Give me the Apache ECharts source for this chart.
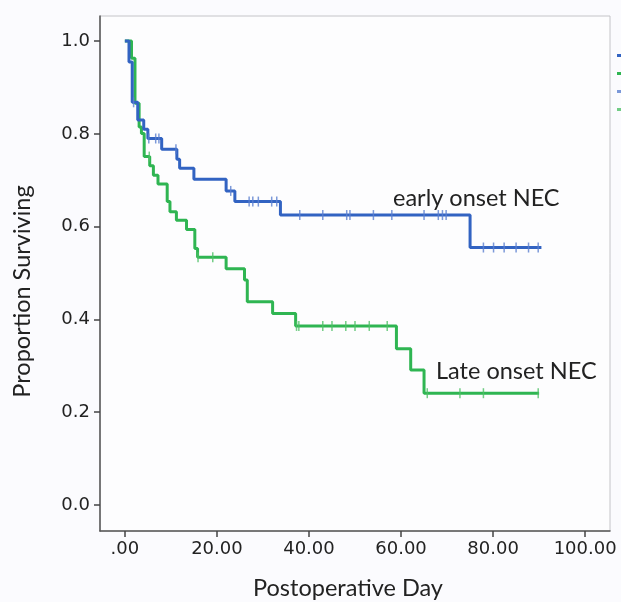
<!DOCTYPE html>
<html>
<head>
<meta charset="utf-8">
<script src="https://cdn.jsdelivr.net/npm/echarts@6/dist/echarts.min.js"></script>
<style>
  html, body { margin: 0; padding: 0; background: #fbfbfe; }
  #chart { width: 621px; height: 602px; }
</style>
</head>
<body>
<div id="chart"></div>
<script>
// Kaplan-Meier 曲线: [day, proportion surviving]
var earlySteps = [
    [0, 1.0], [0.9, 0.955], [1.6, 0.868], [2.8, 0.83], [4.1, 0.81], [5.0, 0.79],
    [8.0, 0.767], [11.3, 0.745], [11.9, 0.726], [15.0, 0.702], [22.0, 0.677],
    [23.9, 0.654], [33.8, 0.625], [75.0, 0.555], [90.5, 0.555]
];
var lateSteps = [
    [0, 1.0], [1.45, 0.963], [2.2, 0.866], [3.1, 0.815], [3.6, 0.801], [4.2, 0.751],
    [5.4, 0.731], [6.2, 0.711], [7.2, 0.692], [9.2, 0.654], [9.8, 0.632],
    [11.2, 0.614], [13.4, 0.594], [15.2, 0.553], [15.8, 0.534], [22.0, 0.509],
    [26.0, 0.485], [26.6, 0.438], [32.1, 0.413], [37.1, 0.386], [59.0, 0.337],
    [62.1, 0.291], [65.0, 0.241], [90.0, 0.241]
];
// censored cases (days)
var earlyCensored = [1.9, 5.2, 6.7, 7.4, 11.1, 23.0, 27.0, 27.8, 29.0, 31.9, 33.0,
    38.0, 43.0, 48.2, 48.9, 54.0, 58.0, 65.0, 68.1, 69.0, 69.8,
    77.9, 80.1, 82.4, 85.0, 87.7, 89.8];
var lateCensored = [5.3, 15.9, 19.1, 37.3, 37.8, 43.0, 45.0, 48.0, 50.0, 53.1, 57.0,
    65.7, 72.8, 77.9, 89.8];

var xTicks = [0, 20, 40, 60, 80, 100];
var yTicks = [0, 0.2, 0.4, 0.6, 0.8, 1.0];

// 找出某一天所在台阶的值
function survivalAt(steps, t) {
    var s = steps[0][1];
    for (var i = 0; i < steps.length; i++) {
        if (steps[i][0] <= t) s = steps[i][1];
    }
    return s;
}
function censorPoints(steps, days) {
    return days.map(function (d) { return [d, survivalAt(steps, d)]; });
}

var blue = '#3263c2';
var green = '#2fb552';
var textColor = '#222';

var chart = echarts.init(document.getElementById('chart'));
var option = {
    backgroundColor: '#fbfbfe',
    animation: false,
    grid: {
        left: 100, right: 11, top: 16, bottom: 71,
        outerBoundsMode: 'none',
        containLabel: false,
        show: true,
        backgroundColor: '#fdfdfe',
        borderColor: '#c4c4c8',
        borderWidth: 1
    },
    legend: {
        orient: 'vertical',
        left: 612, top: 46,
        itemWidth: 10, itemHeight: 3, itemGap: 9,
        icon: 'rect',
        textStyle: { fontSize: 9, color: '#fbfbfe' },
        data: ['early onset NEC', 'Late onset NEC', 'early onset NEC-censored', 'Late onset NEC-censored']
    },
    xAxis: {
        type: 'value',
        min: -5.4, max: 105.4,
        name: 'Postoperative Day',
        nameLocation: 'middle',
        nameGap: 45,
        nameTextStyle: { fontFamily: 'Lato', fontSize: 23.5, color: textColor, padding: [0, 14, 0, 0] },
        axisLine: { onZero: false, lineStyle: { color: '#555', width: 1.5 } },
        axisTick: { show: true, length: 6, customValues: xTicks, lineStyle: { color: '#444', width: 1.5 } },
        axisLabel: {
            customValues: xTicks,
            margin: 9,
            fontFamily: 'DejaVu Sans', fontSize: 18, color: textColor,
            formatter: function (v) { return v === 0 ? '.00' : v.toFixed(2); }
        },
        splitLine: { show: false }
    },
    yAxis: {
        type: 'value',
        min: -0.056, max: 1.054,
        name: 'Proportion Surviving',
        nameLocation: 'middle',
        nameGap: 66,
        nameTextStyle: { fontFamily: 'Lato', fontSize: 23.5, color: textColor, padding: [0, 36, 0, 0] },
        axisLine: { show: true, onZero: false, lineStyle: { color: '#555', width: 1.5 } },
        axisTick: { show: true, length: 6, customValues: yTicks, lineStyle: { color: '#444', width: 1.5 } },
        axisLabel: {
            customValues: yTicks,
            margin: 10,
            fontFamily: 'DejaVu Sans', fontSize: 18, color: textColor,
            formatter: function (v) { return v.toFixed(1); }
        },
        splitLine: { show: false }
    },
    series: [
        {
            name: 'early onset NEC',
            type: 'line',
            step: 'end',
            showSymbol: false,
            color: blue,
            lineStyle: { width: 3, color: blue },
            data: earlySteps,
            z: 3
        },
        {
            name: 'Late onset NEC',
            type: 'line',
            step: 'end',
            showSymbol: false,
            color: green,
            lineStyle: { width: 3, color: green },
            data: lateSteps,
            z: 2
        },
        {
            name: 'early onset NEC-censored',
            type: 'scatter',
            symbol: 'rect',
            symbolSize: [1.5, 10],
            color: '#8fa3e0',
            itemStyle: { color: '#5b80d0' },
            data: censorPoints(earlySteps, earlyCensored),
            z: 4
        },
        {
            name: 'Late onset NEC-censored',
            type: 'scatter',
            symbol: 'rect',
            symbolSize: [1.5, 10],
            color: '#8fd9a3',
            itemStyle: { color: '#4fc067' },
            data: censorPoints(lateSteps, lateCensored),
            z: 4
        }
    ],
    graphic: [
        {
            type: 'text', left: 393, top: 186,
            style: { text: 'early onset NEC', font: '23.5px Lato', fill: textColor }
        },
        {
            type: 'text', left: 436, top: 359,
            style: { text: 'Late onset NEC', font: '23.5px Lato', fill: textColor }
        }
    ]
};
chart.setOption(option);
</script>
</body>
</html>
